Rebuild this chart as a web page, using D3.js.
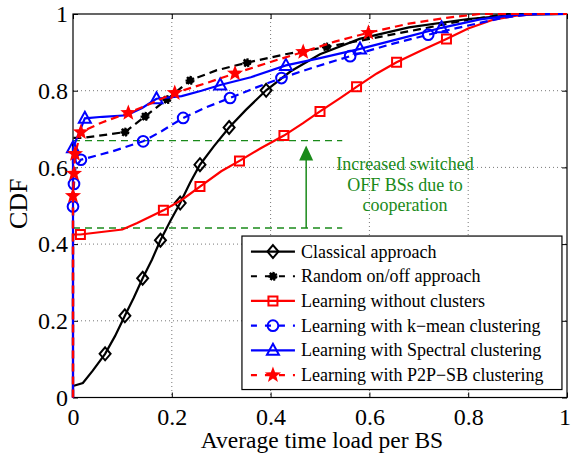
<!DOCTYPE html>
<html>
<head>
<meta charset="utf-8">
<script src="https://cdn.jsdelivr.net/npm/d3@7"></script>
<style>
  body { margin: 0; background: #fff; }
  svg text { font-family: "Liberation Serif", "Times New Roman", Times, "DejaVu Serif", serif; }
</style>
</head>
<body>
<div id="chart"></div>
<script>
// ---- data ----
const xTicks = [0, 0.2, 0.4, 0.6, 0.8, 1];
const yTicks = [0, 0.2, 0.4, 0.6, 0.8, 1];

const classicalLine = [[0,0],[0,0.03],[0.02,0.038],[0.04,0.07],[0.065,0.114],[0.085,0.16],[0.105,0.213],[0.123,0.26],[0.141,0.311],[0.16,0.36],[0.177,0.41],[0.197,0.46],[0.217,0.507],[0.237,0.56],[0.257,0.607],[0.285,0.655],[0.316,0.704],[0.35,0.75],[0.391,0.801],[0.44,0.85],[0.5,0.895],[0.58,0.935],[0.68,0.965],[0.8,0.987],[0.9,0.998],[1,1]];
const classicalMarks = [[0.065,0.114],[0.105,0.213],[0.141,0.311],[0.177,0.41],[0.217,0.507],[0.257,0.607],[0.316,0.704],[0.391,0.801]];

const randomLine = [[0,0],[0,0.677],[0.02,0.677],[0.105,0.692],[0.146,0.733],[0.19,0.777],[0.237,0.827],[0.29,0.853],[0.352,0.873],[0.43,0.895],[0.513,0.914],[0.6,0.935],[0.7,0.96],[0.8,0.985],[0.88,1],[1,1]];
const randomMarks = [[0.105,0.692],[0.146,0.733],[0.19,0.777],[0.237,0.827],[0.352,0.873],[0.513,0.914]];

const noClusterLine = [[0,0],[0,0.425],[0.015,0.425],[0.1,0.438],[0.13,0.455],[0.183,0.488],[0.22,0.515],[0.257,0.55],[0.3,0.59],[0.337,0.617],[0.38,0.65],[0.427,0.683],[0.465,0.715],[0.5,0.746],[0.54,0.78],[0.574,0.81],[0.615,0.845],[0.655,0.874],[0.705,0.905],[0.756,0.935],[0.8,0.962],[0.85,0.985],[0.9,0.996],[0.94,1],[1,1]];
const noClusterMarks = [[0.015,0.425],[0.183,0.488],[0.257,0.55],[0.337,0.617],[0.427,0.683],[0.5,0.746],[0.574,0.81],[0.655,0.874],[0.756,0.935]];

const kmeanLine = [[0,0],[0,0.498],[0.002,0.557],[0.005,0.6],[0.016,0.62],[0.08,0.642],[0.142,0.668],[0.18,0.695],[0.223,0.729],[0.27,0.757],[0.318,0.781],[0.37,0.808],[0.422,0.833],[0.49,0.862],[0.561,0.89],[0.64,0.92],[0.719,0.946],[0.8,0.97],[0.87,0.99],[0.93,1],[1,1]];
const kmeanMarks = [[0,0.498],[0.002,0.557],[0.016,0.62],[0.142,0.668],[0.223,0.729],[0.318,0.781],[0.422,0.833],[0.561,0.89],[0.719,0.946]];

const spectralLine = [[0,0],[0,0.651],[0.024,0.728],[0.06,0.732],[0.109,0.736],[0.14,0.755],[0.169,0.779],[0.22,0.786],[0.26,0.8],[0.298,0.815],[0.36,0.835],[0.431,0.866],[0.5,0.885],[0.581,0.909],[0.66,0.935],[0.746,0.964],[0.824,0.986],[0.9,0.998],[1,1]];
const spectralMarks = [[0,0.651],[0.024,0.728],[0.169,0.779],[0.298,0.815],[0.431,0.866],[0.581,0.909],[0.746,0.964]];

const p2pLine = [[0,0],[0,0.526],[0.002,0.584],[0.004,0.635],[0.016,0.692],[0.06,0.718],[0.112,0.742],[0.16,0.768],[0.206,0.794],[0.27,0.82],[0.328,0.845],[0.4,0.875],[0.466,0.901],[0.53,0.928],[0.598,0.951],[0.68,0.975],[0.756,0.99],[0.824,1],[1,1]];
const p2pMarks = [[0,0.526],[0.002,0.584],[0.004,0.635],[0.016,0.692],[0.112,0.742],[0.206,0.794],[0.328,0.845],[0.466,0.901],[0.598,0.951]];

const seriesNames = ["Classical approach", "Random on/off approach", "Learning without clusters",
  "Learning with k\u2212mean clustering", "Learning with Spectral clustering", "Learning with P2P\u2212SB clustering"];

// annotation (green): the two reference levels and the arrow
const gainLevels = [0.442, 0.67];
const gainLevelEndX = 0.545;
const arrowX = 0.472;
const noteLines = ["Increased switched", "OFF BSs due to", "cooperation"];

// ---- layout ----
const width = 571, height = 455;
const margin = {top: 14, right: 4, bottom: 57.5, left: 73};
const w = width - margin.left - margin.right;
const h = height - margin.top - margin.bottom;
const serif = '"Liberation Serif", "Times New Roman", Times, "DejaVu Serif", serif';

const svg = d3.select("#chart").append("svg")
  .attr("width", width).attr("height", height)
  .attr("font-family", serif);
const g = svg.append("g").attr("transform", `translate(${margin.left},${margin.top})`);

const x = d3.scaleLinear().domain([0, 1]).range([0, w]);
const y = d3.scaleLinear().domain([0, 1]).range([h, 0]);

// grid
g.append("g").selectAll("line").data(xTicks.slice(1, -1)).join("line")
  .attr("x1", d => x(d)).attr("x2", d => x(d)).attr("y1", 0).attr("y2", h)
  .attr("stroke", "#555").attr("stroke-width", 0.8).attr("stroke-dasharray", "1,3");
g.append("g").selectAll("line").data(yTicks.slice(1, -1)).join("line")
  .attr("y1", d => y(d)).attr("y2", d => y(d)).attr("x1", 0).attr("x2", w)
  .attr("stroke", "#555").attr("stroke-width", 0.8).attr("stroke-dasharray", "1,3");

// axes (MATLAB style: inward ticks on all sides)
const axStyle = sel => {
  sel.attr("font-family", serif);
  sel.select(".domain").remove();
  sel.selectAll("line").attr("stroke", "#000");
  sel.selectAll("text").style("font-size", "24px").attr("fill", "#000");
};
const fmt = d => d === 0 || d === 1 ? String(d) : d3.format(".1f")(d);
g.append("g").attr("transform", `translate(0,${h})`)
  .call(d3.axisBottom(x).tickValues(xTicks).tickFormat(fmt).tickSizeInner(-5).tickPadding(10))
  .call(axStyle)
  .call(ax => ax.selectAll("text").filter(d => d === 1).attr("dx", -2.5));
g.append("g")
  .call(d3.axisLeft(y).tickValues(yTicks).tickFormat(fmt).tickSizeInner(-5).tickPadding(5))
  .call(axStyle);
g.append("g").call(d3.axisTop(x).tickValues(xTicks).tickFormat("").tickSizeInner(-5)).call(axStyle);
g.append("g").attr("transform", `translate(${w},0)`)
  .call(d3.axisRight(y).tickValues(yTicks).tickFormat("").tickSizeInner(-5)).call(axStyle);
g.append("rect").attr("width", w).attr("height", h)
  .attr("fill", "none").attr("stroke", "#000").attr("stroke-width", 1.2);

// annotation
const green = "#1a8a1a";
g.append("g").selectAll("line").data(gainLevels).join("line")
  .attr("x1", x(0)).attr("x2", x(gainLevelEndX))
  .attr("y1", d => y(d)).attr("y2", d => y(d))
  .attr("stroke", green).attr("stroke-width", 1.3).attr("stroke-dasharray", "7,5");
g.append("line")
  .attr("x1", x(arrowX)).attr("x2", x(arrowX))
  .attr("y1", y(gainLevels[0])).attr("y2", y(gainLevels[1]) + 18)
  .attr("stroke", green).attr("stroke-width", 1.5);
g.append("path")
  .attr("d", `M${x(arrowX)},${y(gainLevels[1]) + 5} l-7,15 h14 z`)
  .attr("fill", green);
g.append("text")
  .attr("x", x(0.672)).attr("y", y(0.6) + 3)
  .attr("text-anchor", "middle").attr("fill", green).style("font-size", "18px")
  .selectAll("tspan").data(noteLines).join("tspan")
  .attr("x", x(0.672)).attr("dy", (d, i) => i === 0 ? 0 : 20.5).text(d => d);

// markers
const starPath = (r) => {
  const pts = [];
  for (let i = 0; i < 10; i++) {
    const a = -Math.PI / 2 + i * Math.PI / 5;
    const rr = i % 2 === 0 ? r : r * 0.42;
    pts.push([rr * Math.cos(a), rr * Math.sin(a)]);
  }
  return "M" + pts.map(p => p.join(",")).join("L") + "Z";
};
const markerPath = {
  diamond: "M0,-6.5L5.5,0L0,6.5L-5.5,0Z",
  square: "M-4.5,-4.5H4.5V4.5H-4.5Z",
  circle: d3.symbol(d3.symbolCircle, 90)(),
  triangle: "M0,-6.5L6,4.5H-6Z",
  star: starPath(8.5),
  asterisk: d3.symbol(d3.symbolCircle, 40)()
};

const series = [
  {line: classicalLine, marks: classicalMarks, color: "#000", dash: null, marker: "diamond"},
  {line: randomLine, marks: randomMarks, color: "#000", dash: "8,5", marker: "asterisk"},
  {line: noClusterLine, marks: noClusterMarks, color: "#f00", dash: null, marker: "square"},
  {line: kmeanLine, marks: kmeanMarks, color: "#00f", dash: "8,5", marker: "circle"},
  {line: spectralLine, marks: spectralMarks, color: "#00f", dash: null, marker: "triangle"},
  {line: p2pLine, marks: p2pMarks, color: "#f00", dash: "8,5", marker: "star"}
];

const drawMarker = (sel, s) => {
  if (s.marker === "star") {
    sel.attr("d", markerPath.star).attr("fill", s.color).attr("stroke", "none");
  } else if (s.marker === "asterisk") {
    sel.attr("d", markerPath.asterisk).attr("fill", s.color).attr("stroke", s.color)
      .attr("stroke-width", 2).attr("stroke-dasharray", "2,1.2");
  } else {
    sel.attr("d", markerPath[s.marker]).attr("fill", "none")
      .attr("stroke", s.color).attr("stroke-width", 2);
  }
};

const line = d3.line().x(d => x(d[0])).y(d => y(d[1]));
series.forEach(s => {
  g.append("path").datum(s.line)
    .attr("d", line).attr("fill", "none")
    .attr("stroke", s.color).attr("stroke-width", 2.2)
    .attr("stroke-dasharray", s.dash);
  g.append("g").selectAll("path").data(s.marks).join("path")
    .attr("transform", d => `translate(${x(d[0])},${y(d[1])})`)
    .call(drawMarker, s);
});

// legend
const lg = g.append("g").attr("transform", `translate(${x(0.342)},${y(0.421)})`);
lg.append("rect").attr("width", 320).attr("height", 153.5)
  .attr("fill", "#fff").attr("stroke", "#000").attr("stroke-width", 1.2);
series.forEach((s, i) => {
  const row = lg.append("g").attr("transform", `translate(0,${15.5 + i * 24.7})`);
  row.append("line").attr("x1", 9).attr("x2", 53).attr("y1", 0).attr("y2", 0)
    .attr("stroke", s.color).attr("stroke-width", 2.2)
    .attr("stroke-dasharray", s.dash ? "6,8" : null);
  row.append("path").attr("transform", "translate(31,0)").call(drawMarker, s);
  row.append("text").attr("x", 59).attr("y", 6).style("font-size", "18px")
    .text(seriesNames[i]);
});

// axis titles
svg.append("text")
  .attr("x", margin.left + w / 2 + 2).attr("y", height - 7)
  .attr("text-anchor", "middle").style("font-size", "23.5px")
  .text("Average time load per BS");
svg.append("text")
  .attr("transform", `translate(27,${margin.top + h / 2 - 2}) rotate(-90)`)
  .attr("text-anchor", "middle").style("font-size", "26px")
  .text("CDF");
</script>
</body>
</html>
